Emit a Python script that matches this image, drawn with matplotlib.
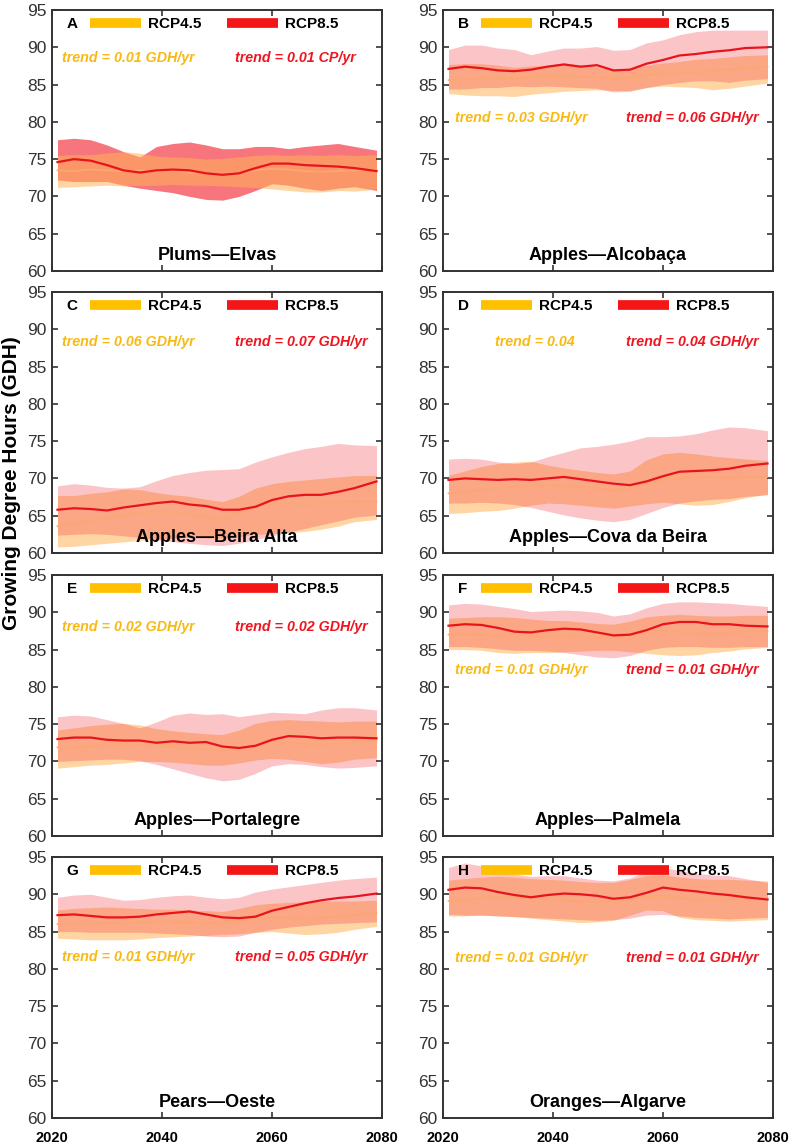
import matplotlib
matplotlib.use("Agg")
import matplotlib.pyplot as plt
from matplotlib.lines import Line2D

plt.rcParams['font.family'] = ['Liberation Sans', 'DejaVu Sans']

# ---- data (roughly every 3 years) ----
years = [2021, 2024, 2027, 2030, 2033, 2036, 2039, 2042, 2045, 2048,
         2051, 2054, 2057, 2060, 2063, 2066, 2069, 2072, 2075, 2079]

titles = ['Plums\u2014Elvas', 'Apples\u2014Alcoba\u00e7a', 'Apples\u2014Beira Alta',
          'Apples\u2014Cova da Beira', 'Apples\u2014Portalegre', 'Apples\u2014Palmela',
          'Pears\u2014Oeste', 'Oranges\u2014Algarve']
letters = ['A', 'B', 'C', 'D', 'E', 'F', 'G', 'H']
trend45 = ['trend = 0.01 GDH/yr', 'trend = 0.03 GDH/yr', 'trend = 0.06 GDH/yr', 'trend = 0.04',
           'trend = 0.02 GDH/yr', 'trend = 0.01 GDH/yr', 'trend = 0.01 GDH/yr', 'trend = 0.01 GDH/yr']
trend85 = ['trend = 0.01 CP/yr', 'trend = 0.06 GDH/yr', 'trend = 0.07 GDH/yr', 'trend = 0.04 GDH/yr',
           'trend = 0.02 GDH/yr', 'trend = 0.01 GDH/yr', 'trend = 0.05 GDH/yr', 'trend = 0.01 GDH/yr']

# A  Plums - Elvas
a45_mean = [73.5, 73.4, 73.6, 73.5, 73.4, 73.5, 73.4, 73.5, 73.2, 73.1, 73.0, 73.2, 73.5, 73.7, 73.6, 73.4, 73.3, 73.4, 73.5, 73.6]
a45_high = [75.5, 75.6, 75.6, 75.8, 76.0, 75.8, 75.4, 75.3, 75.2, 75.0, 75.1, 75.3, 75.5, 75.6, 75.5, 75.6, 75.5, 75.6, 75.5, 75.6]
a45_low = [71.2, 71.3, 71.4, 71.5, 71.4, 71.5, 71.5, 71.6, 71.5, 71.5, 71.4, 71.3, 71.2, 71.0, 70.8, 70.6, 70.6, 70.8, 70.7, 71.0]
a85_mean = [74.6, 75.0, 74.8, 74.2, 73.5, 73.2, 73.5, 73.6, 73.5, 73.1, 72.9, 73.1, 73.8, 74.4, 74.4, 74.2, 74.1, 74.0, 73.8, 73.4]
a85_high = [77.6, 77.8, 77.6, 76.9, 76.0, 75.3, 76.7, 77.1, 77.3, 76.9, 76.4, 76.4, 76.7, 76.7, 76.4, 76.7, 76.9, 77.1, 76.7, 76.2]
a85_low = [72.2, 72.0, 72.0, 72.0, 71.5, 71.1, 70.8, 70.5, 70.0, 69.6, 69.5, 70.0, 70.8, 71.7, 71.5, 71.1, 70.8, 71.1, 71.3, 70.8]

# B  Apples - Alcobaca
b45_mean = [85.6, 85.7, 85.7, 85.8, 85.8, 86.0, 86.1, 86.1, 86.0, 86.0, 85.8, 85.9, 86.3, 86.5, 86.6, 86.6, 86.9, 87.0, 87.2, 87.4]
b45_high = [87.7, 87.8, 87.8, 87.6, 87.3, 87.5, 87.6, 87.9, 87.6, 87.4, 87.0, 87.2, 87.6, 87.9, 88.1, 88.4, 88.5, 88.7, 88.9, 89.0]
b45_low = [83.8, 83.6, 83.5, 83.5, 83.4, 83.7, 83.9, 84.1, 84.2, 84.3, 84.2, 84.2, 84.6, 84.8, 84.7, 84.6, 84.3, 84.5, 84.8, 85.2]
b85_mean = [87.1, 87.4, 87.2, 86.9, 86.8, 87.0, 87.4, 87.7, 87.4, 87.6, 86.9, 87.0, 87.8, 88.3, 88.9, 89.1, 89.4, 89.6, 89.9, 90.0]
b85_high = [89.7, 90.3, 90.3, 89.9, 89.7, 89.0, 89.5, 89.9, 89.9, 90.1, 89.6, 89.7, 90.6, 91.0, 91.7, 92.1, 92.3, 92.3, 92.3, 92.3]
b85_low = [84.4, 84.4, 84.6, 84.6, 84.8, 84.7, 84.8, 84.7, 84.6, 84.5, 84.0, 84.1, 84.6, 85.0, 85.3, 85.5, 85.5, 85.3, 85.6, 85.8]

# C  Apples - Beira Alta
c45_mean = [63.6, 63.9, 64.3, 64.7, 65.0, 65.4, 65.6, 65.5, 65.2, 64.8, 64.5, 65.3, 66.2, 66.6, 66.6, 66.5, 66.6, 66.8, 66.9, 66.9]
c45_high = [67.7, 67.7, 68.0, 68.2, 68.6, 68.5, 68.1, 67.8, 67.6, 67.2, 66.9, 67.6, 68.7, 69.3, 69.6, 69.8, 70.0, 70.2, 70.4, 70.4]
c45_low = [60.8, 60.9, 61.1, 61.3, 61.5, 61.7, 61.8, 62.0, 62.1, 62.0, 62.0, 62.2, 62.5, 62.6, 62.7, 62.9, 63.2, 63.6, 64.2, 64.5]
c85_mean = [65.8, 66.0, 65.9, 65.7, 66.1, 66.4, 66.7, 66.9, 66.5, 66.3, 65.8, 65.8, 66.2, 67.1, 67.6, 67.8, 67.8, 68.2, 68.7, 69.6]
c85_high = [69.0, 69.3, 69.1, 68.8, 68.7, 68.9, 69.7, 70.4, 70.8, 71.1, 71.2, 71.3, 72.2, 72.9, 73.5, 74.0, 74.3, 74.7, 74.5, 74.4]
c85_low = [62.4, 62.5, 62.6, 62.5, 62.3, 62.1, 61.8, 61.5, 61.3, 61.1, 61.0, 61.3, 61.8, 62.3, 62.8, 63.3, 63.8, 64.3, 64.8, 65.1]

# D  Apples - Cova da Beira
d45_mean = [68.0, 68.2, 68.5, 68.7, 68.9, 69.0, 69.1, 69.0, 68.8, 68.7, 68.3, 68.6, 69.3, 69.9, 70.0, 70.2, 70.2, 70.1, 70.2, 70.2]
d45_high = [70.4, 71.0, 71.6, 72.0, 72.2, 72.3, 71.8, 71.4, 71.1, 70.8, 70.6, 71.0, 72.5, 73.3, 73.5, 73.3, 73.0, 72.8, 72.6, 72.4]
d45_low = [65.3, 65.4, 65.6, 65.7, 66.0, 66.4, 66.7, 66.6, 66.4, 66.2, 66.0, 66.3, 66.6, 66.8, 66.6, 66.4, 66.5, 66.9, 67.4, 67.9]
d85_mean = [69.8, 70.0, 69.9, 69.8, 69.9, 69.8, 70.0, 70.2, 69.9, 69.6, 69.3, 69.1, 69.6, 70.3, 70.9, 71.0, 71.1, 71.3, 71.7, 72.0]
d85_high = [72.6, 72.7, 72.6, 72.2, 72.0, 72.2, 72.9, 73.5, 74.1, 74.3, 74.6, 75.0, 75.6, 75.6, 75.7, 76.0, 76.5, 76.9, 76.8, 76.4]
d85_low = [66.7, 66.7, 66.8, 66.7, 66.5, 66.1, 65.6, 65.1, 64.7, 64.4, 64.2, 64.5, 65.3, 66.1, 66.7, 67.0, 67.2, 67.3, 67.6, 67.8]

# E  Apples - Portalegre
e45_mean = [71.9, 71.9, 72.0, 72.2, 72.3, 72.2, 72.1, 72.0, 71.8, 71.6, 71.5, 71.7, 72.3, 72.7, 72.5, 72.3, 72.2, 72.4, 72.6, 72.8]
e45_high = [74.2, 74.5, 74.8, 75.0, 75.1, 74.9, 74.4, 74.1, 73.9, 73.7, 73.6, 74.2, 75.1, 75.5, 75.6, 75.5, 75.4, 75.3, 75.4, 75.4]
e45_low = [69.1, 69.3, 69.5, 69.6, 69.8, 70.0, 70.0, 69.9, 69.7, 69.5, 69.5, 69.8, 70.2, 70.4, 70.3, 70.0, 69.7, 69.9, 70.3, 70.5]
e85_mean = [73.0, 73.2, 73.2, 72.9, 72.8, 72.8, 72.5, 72.7, 72.5, 72.6, 72.0, 71.8, 72.1, 72.9, 73.4, 73.3, 73.1, 73.2, 73.2, 73.1]
e85_high = [76.0, 76.2, 76.1, 75.6, 75.1, 74.5, 75.3, 76.2, 76.5, 76.3, 76.4, 76.0, 76.3, 76.6, 76.5, 76.4, 76.9, 77.2, 77.2, 76.9]
e85_low = [70.0, 70.1, 70.2, 70.3, 70.3, 70.1, 69.6, 69.0, 68.4, 67.8, 67.4, 67.6, 68.4, 69.4, 69.7, 69.6, 69.3, 69.1, 69.2, 69.4]

# F  Apples - Palmela
f45_mean = [87.0, 87.1, 87.0, 86.9, 86.9, 86.8, 86.8, 86.8, 86.7, 86.6, 86.6, 86.8, 87.2, 87.5, 87.4, 87.2, 87.1, 87.2, 87.4, 87.5]
f45_high = [89.2, 89.3, 89.4, 89.4, 89.3, 89.1, 88.9, 88.9, 88.7, 88.5, 88.4, 88.8, 89.4, 89.6, 89.7, 89.6, 89.5, 89.5, 89.6, 89.6]
f45_low = [85.0, 85.0, 84.9, 84.6, 84.5, 84.6, 84.6, 84.7, 84.8, 84.9, 84.9, 84.7, 84.5, 84.3, 84.2, 84.3, 84.6, 84.8, 85.1, 85.3]
f85_mean = [88.2, 88.4, 88.3, 87.9, 87.4, 87.3, 87.6, 87.8, 87.7, 87.3, 86.9, 87.0, 87.6, 88.4, 88.7, 88.7, 88.4, 88.4, 88.2, 88.1]
f85_high = [91.0, 91.2, 91.1, 90.8, 90.5, 90.1, 90.2, 90.3, 90.2, 90.0, 89.5, 89.8, 90.6, 91.2, 91.4, 91.4, 91.3, 91.2, 91.0, 90.8]
f85_low = [85.4, 85.4, 85.3, 85.1, 84.9, 84.9, 84.8, 84.6, 84.3, 84.0, 83.9, 84.2, 84.9, 85.3, 85.4, 85.4, 85.3, 85.3, 85.4, 85.4]

# G  Pears - Oeste
g45_mean = [86.0, 86.0, 86.1, 86.1, 86.1, 86.2, 86.3, 86.3, 86.2, 86.1, 86.1, 86.3, 86.7, 86.9, 86.8, 86.7, 86.9, 87.0, 87.2, 87.5]
g45_high = [87.9, 88.1, 88.2, 88.3, 88.2, 88.1, 88.0, 88.0, 87.9, 87.8, 87.7, 88.1, 88.6, 88.8, 88.9, 89.0, 89.1, 89.1, 89.1, 89.2]
g45_low = [84.1, 84.0, 83.9, 83.9, 83.9, 84.0, 84.2, 84.3, 84.4, 84.5, 84.6, 84.7, 84.9, 85.0, 84.8, 84.6, 84.7, 84.9, 85.3, 85.7]
g85_mean = [87.2, 87.3, 87.1, 86.9, 86.9, 87.0, 87.3, 87.5, 87.7, 87.3, 86.9, 86.8, 87.0, 87.8, 88.3, 88.8, 89.2, 89.5, 89.7, 90.1]
g85_high = [89.6, 89.9, 90.0, 89.6, 89.2, 89.3, 89.6, 89.8, 89.9, 89.6, 89.4, 89.6, 90.3, 90.7, 91.0, 91.3, 91.6, 91.9, 92.1, 92.3]
g85_low = [85.0, 85.0, 84.9, 84.9, 84.9, 84.9, 84.8, 84.7, 84.6, 84.4, 84.3, 84.4, 84.9, 85.3, 85.6, 85.8, 86.0, 86.1, 86.2, 86.3]

# H  Oranges - Algarve
h45_mean = [89.1, 89.2, 89.5, 89.6, 89.5, 89.4, 89.3, 89.2, 89.0, 89.0, 89.0, 89.3, 89.7, 89.8, 89.5, 89.3, 89.2, 89.3, 89.3, 89.4]
h45_high = [91.9, 92.1, 92.3, 92.4, 92.3, 92.1, 92.0, 91.9, 91.7, 91.6, 91.6, 92.0, 92.5, 92.6, 92.3, 92.1, 92.0, 92.0, 91.9, 91.8]
h45_low = [87.1, 87.1, 87.2, 87.1, 87.0, 86.8, 86.6, 86.4, 86.2, 86.3, 86.5, 87.2, 87.9, 87.8, 86.9, 86.6, 86.5, 86.4, 86.5, 86.6]
h85_mean = [90.6, 90.9, 90.8, 90.3, 89.9, 89.6, 89.9, 90.1, 90.0, 89.8, 89.4, 89.6, 90.2, 90.9, 90.6, 90.4, 90.1, 89.9, 89.6, 89.3]
h85_high = [93.6, 94.2, 93.8, 93.0, 92.7, 92.4, 92.5, 92.5, 92.2, 91.9, 91.8, 92.2, 93.0, 93.6, 93.2, 92.8, 92.6, 92.5, 92.1, 91.6]
h85_low = [87.3, 87.2, 87.2, 87.1, 87.0, 86.9, 86.8, 86.7, 86.6, 86.5, 86.6, 86.8, 87.2, 87.3, 87.1, 86.9, 86.8, 86.7, 86.8, 86.9]

rcp45 = [(a45_mean, a45_low, a45_high), (b45_mean, b45_low, b45_high),
         (c45_mean, c45_low, c45_high), (d45_mean, d45_low, d45_high),
         (e45_mean, e45_low, e45_high), (f45_mean, f45_low, f45_high),
         (g45_mean, g45_low, g45_high), (h45_mean, h45_low, h45_high)]
rcp85 = [(a85_mean, a85_low, a85_high), (b85_mean, b85_low, b85_high),
         (c85_mean, c85_low, c85_high), (d85_mean, d85_low, d85_high),
         (e85_mean, e85_low, e85_high), (f85_mean, f85_low, f85_high),
         (g85_mean, g85_low, g85_high), (h85_mean, h85_low, h85_high)]

# ---- layout / styles ----
W, H = 791, 1147
col_left = [52, 443]
col_width = 330
row_top = [10, 292, 575, 857]
row_height = 261
trend_y = [0.816, 0.586, 0.808, 0.81, 0.80, 0.636, 0.617, 0.613]
trend45_x = [0.03, 0.036, 0.03, 0.157, 0.03, 0.036, 0.03, 0.036]

band45 = (1.0, 0.70, 0.35)
band85 = (0.95, 0.10, 0.15)
line45 = '#FBA870'
line85 = '#E8141B'
txt45 = '#F8B913'
txt85 = '#EE1520'
legend45 = '#FFC000'
legend85 = '#F41616'
spine_col = '#333333'

fig = plt.figure(figsize=(W / 100, H / 100), dpi=100)

for i in range(8):
    r, c = divmod(i, 2)
    rect = [col_left[c] / W, 1 - (row_top[r] + row_height) / H, col_width / W, row_height / H]
    ax = fig.add_axes(rect)
    m45, lo45, hi45 = rcp45[i]
    m85, lo85, hi85 = rcp85[i]

    if i == 0:
        # panel A has the RCP8.5 envelope drawn first and stronger
        ax.fill_between(years, lo85, hi85, color=band85, alpha=0.6, lw=0)
        ax.fill_between(years, lo45, hi45, color=band45, alpha=0.55, lw=0)
    else:
        ax.fill_between(years, lo45, hi45, color=band45, alpha=0.55, lw=0)
        ax.fill_between(years, lo85, hi85, color=band85, alpha=0.25, lw=0)
    ax.plot(years, m45, color=line45, lw=1.2)
    ax.plot(years, m85, color=line85, lw=1.6)

    ax.set_xlim(2020, 2080)
    ax.set_ylim(60, 95)
    ax.set_xticks([2020, 2040, 2060, 2080])
    ax.set_yticks(range(60, 96, 5))
    ax.tick_params(axis='both', direction='in', length=4, width=1.2, color=spine_col,
                   top=True, right=True)
    ax.tick_params(axis='y', labelsize=12.5, labelcolor='#333333', pad=4)
    ax.tick_params(axis='x', pad=9)
    if r == 3:
        ax.set_xticklabels(['2020', '2040', '2060', '2080'], fontsize=10.5, fontweight='bold')
    else:
        ax.set_xticklabels([])
    for sp in ax.spines.values():
        sp.set_color(spine_col)
        sp.set_linewidth(1.4)

    ax.text(0.045, 0.946, letters[i], transform=ax.transAxes, fontsize=11,
            fontweight='bold', va='center', ha='left')
    handles = [Line2D([], [], color=legend45, lw=7, solid_capstyle='butt'),
               Line2D([], [], color=legend85, lw=7, solid_capstyle='butt')]
    ax.legend(handles, ['RCP4.5', 'RCP8.5'], ncol=2, loc='center left',
              bbox_to_anchor=(0.115, 0.946), frameon=False, handlelength=3.35,
              handletextpad=0.45, columnspacing=1.65, borderpad=0, borderaxespad=0,
              prop=dict(weight='bold', size=11))
    ax.text(trend45_x[i], trend_y[i], trend45[i], transform=ax.transAxes, color=txt45,
            fontsize=10.3, fontweight='bold', style='italic', va='center', ha='left')
    ax.text(0.556, trend_y[i], trend85[i], transform=ax.transAxes, color=txt85,
            fontsize=10.3, fontweight='bold', style='italic', va='center', ha='left')
    ax.text(0.5, 0.058, titles[i], transform=ax.transAxes, fontsize=13,
            fontweight='bold', va='center', ha='center')

fig.text(0.015, 0.579, 'Growing Degree Hours (GDH)', rotation=90, fontsize=15,
         fontweight='bold', va='center', ha='center')

fig.savefig('out.png', dpi=100)
